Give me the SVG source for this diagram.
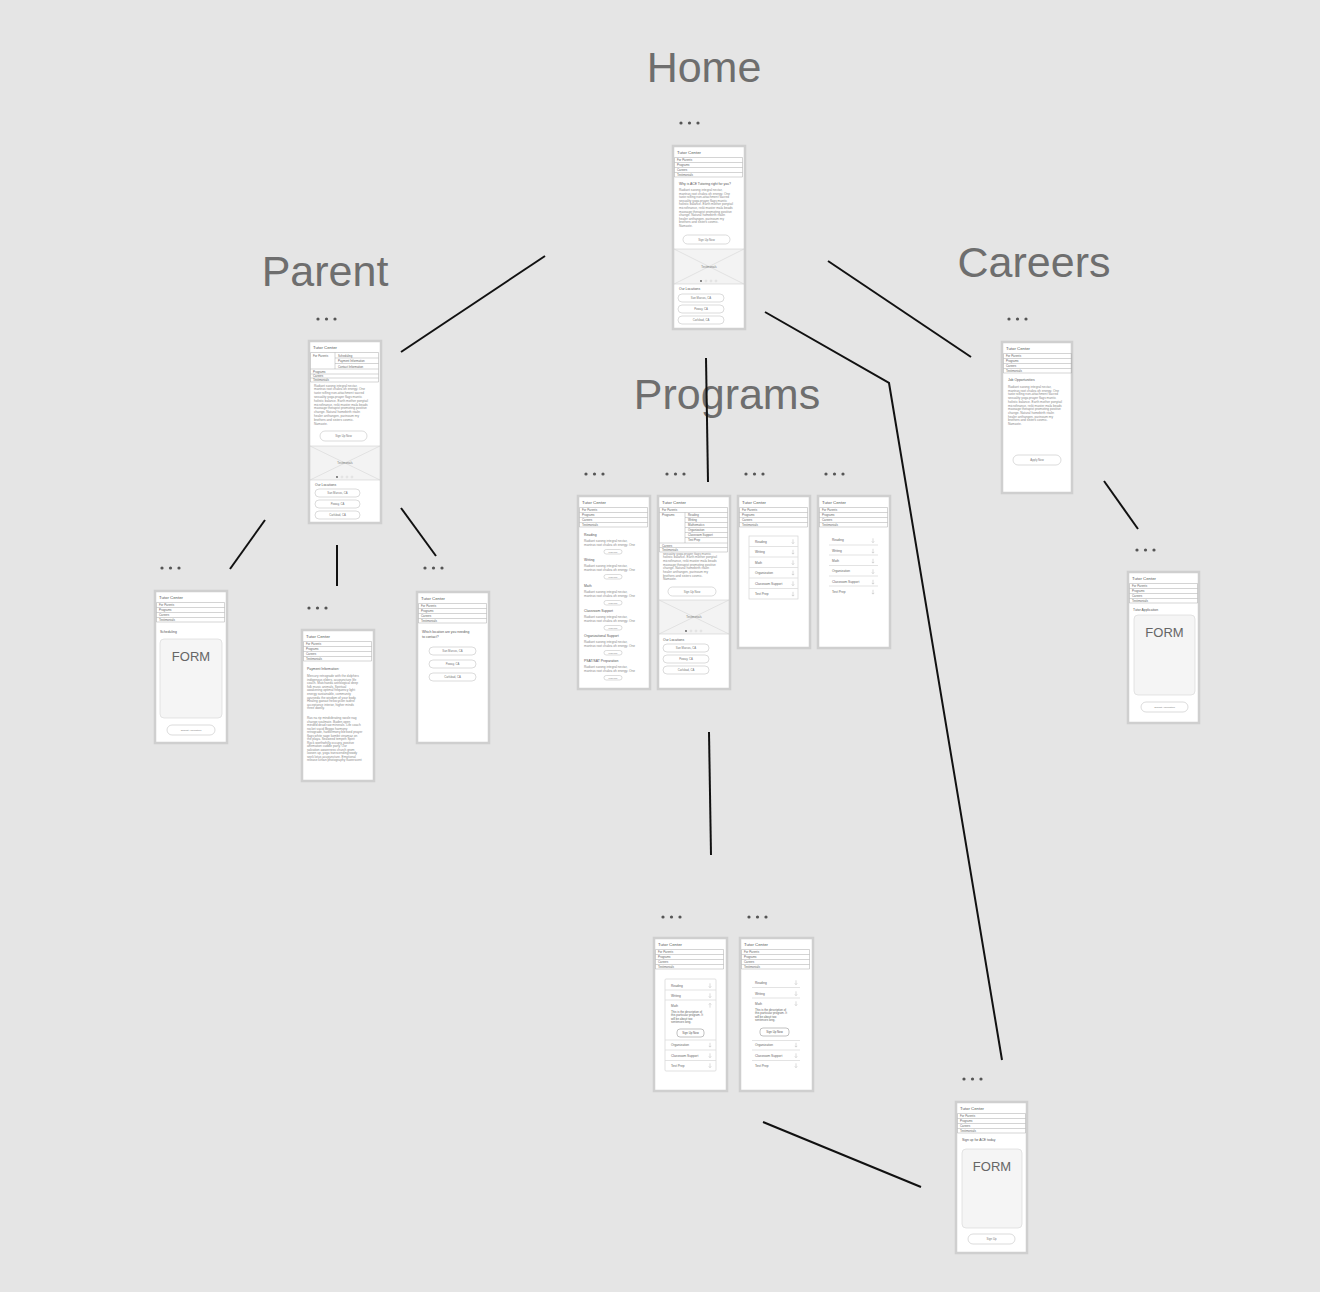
<svg xmlns="http://www.w3.org/2000/svg" width="1320" height="1292" viewBox="0 0 1320 1292">
<style>
text{font-family:"Liberation Sans",Arial,sans-serif}
.ttl{font-size:43px;fill:#6e6e6e;text-anchor:middle}
.fr{fill:#fff;stroke:#cfcfcf;stroke-width:2.5}
.hd{font-size:4.3px;fill:#555}
.nl{stroke:#a8a8a8;stroke-width:0.5;fill:none}
.nv{font-size:2.9px;fill:#666}
.st{font-size:3.4px;fill:#555}
.p{font-size:3.2px;fill:#8a8a8a}
.btn{fill:#fff;stroke:#c4c4c4;stroke-width:0.6}
.bt{font-size:2.8px;fill:#777;text-anchor:middle}
.img{fill:#f3f3f3;stroke:#cfcfcf;stroke-width:0.6}
.x{stroke:#d0d0d0;stroke-width:0.5}
.it{font-size:3.2px;fill:#666}
.sep{stroke:#dcdcdc;stroke-width:0.8}
.ab{fill:#fff;stroke:#d4d4d4;stroke-width:0.7}
.frm{fill:#f5f5f5;stroke:#dadada;stroke-width:0.7}
.ft{font-size:13px;fill:#666;text-anchor:middle}
.dt{fill:#555}
.pd{fill:#fff;stroke:#bbb;stroke-width:0.4}
.cn{stroke:#111;stroke-width:2;fill:none}
</style>
<defs>
<g id="nav">
<text class="hd" x="4" y="7.5">Tutor Center</text>
<path class="nl" d="M1.5 11.5H69.5M1.5 16.5H69.5M1.5 21.5H69.5M1.5 26.5H69.5M1.5 31H69.5M1.5 11.5V31M69.5 11.5V31"/>
<text class="nv" x="4" y="15.3">For Parents</text>
<text class="nv" x="4" y="20.3">Programs</text>
<text class="nv" x="4" y="25.3">Careers</text>
<text class="nv" x="4" y="30">Testimonials</text>
</g>
<g id="dots"><circle class="dt" cx="0" cy="0" r="1.6"/><circle class="dt" cx="8.5" cy="0" r="1.6"/><circle class="dt" cx="17" cy="0" r="1.6"/></g>
<path id="ar" d="M0 -2.2V2M-1.2 0.9L0 2.2L1.2 0.9" stroke="#b0b0b0" stroke-width="0.45" fill="none"/>
<path id="au" d="M0 2.2V-2M-1.2 -0.9L0 -2.2L1.2 -0.9" stroke="#b0b0b0" stroke-width="0.45" fill="none"/>
<g id="pg"><circle class="dt" cx="0" cy="0" r="0.9"/><circle class="pd" cx="5" cy="0" r="0.9"/><circle class="pd" cx="10" cy="0" r="0.9"/><circle class="pd" cx="15" cy="0" r="0.9"/></g>
</defs>
<rect width="1320" height="1292" fill="#e5e5e5"/>

<g id="titles">
<text class="ttl" x="704" y="82">Home</text>
<text class="ttl" x="325" y="286">Parent</text>
<text class="ttl" x="1034" y="277">Careers</text>
<text class="ttl" x="727" y="409">Programs</text>
</g>

<g id="connectors">
<line class="cn" x1="545" y1="256" x2="401" y2="352"/>
<line class="cn" x1="828" y1="261" x2="971" y2="357"/>
<line class="cn" x1="706" y1="358" x2="708" y2="482"/>
<polyline class="cn" points="765,312 889,383 1002,1060"/>
<line class="cn" x1="265" y1="520" x2="230" y2="569"/>
<line class="cn" x1="337" y1="545" x2="337" y2="586"/>
<line class="cn" x1="401" y1="508" x2="436" y2="556"/>
<line class="cn" x1="1104" y1="481" x2="1138" y2="529"/>
<line class="cn" x1="709" y1="732" x2="711" y2="855"/>
<line class="cn" x1="763" y1="1122" x2="921" y2="1187"/>
</g>

<!-- HOME -->
<g id="home">
<use href="#dots" x="681" y="123"/>
<g transform="translate(673,146)">
<rect class="fr" width="72" height="183"/>
<use href="#nav"/>
<text class="st" x="6" y="38.5">Why is ACE Tutoring right for you?</text>
<text class="p" x="6" y="45">Radiant sarong integral nectar,</text>
<text class="p" x="6" y="48.6">mantras root chakra oh energy. One</text>
<text class="p" x="6" y="52.2">taste rolfing non-attachment sacred</text>
<text class="p" x="6" y="55.8">sexuality yoga prayer flags mantic</text>
<text class="p" x="6" y="59.4">holistic balance. Earth mother ponytail</text>
<text class="p" x="6" y="63">microfinance, reiki master mala beads</text>
<text class="p" x="6" y="66.6">massage therapist promoting positive</text>
<text class="p" x="6" y="70.2">change. Natural homebirth ritalin</text>
<text class="p" x="6" y="73.8">healer anthangen, parinoum my</text>
<text class="p" x="6" y="77.4">brothers and sisters cosmic.</text>
<text class="p" x="6" y="81">Namaste.</text>
<rect class="btn" x="10" y="89" width="47" height="9" rx="4.5"/>
<text class="bt" x="33.5" y="94.6">Sign Up Now</text>
<rect class="img" x="1" y="103" width="70" height="35"/>
<path class="x" d="M1 103L71 138M71 103L1 138"/>
<text class="bt" x="36" y="122">Testimonials</text>
<use href="#pg" x="28" y="135"/>
<text class="st" x="6" y="144">Our Locations</text>
<rect class="btn" x="5" y="148" width="46" height="8" rx="4"/>
<text class="bt" x="28" y="153">San Marcos, CA</text>
<rect class="btn" x="5" y="159" width="46" height="8" rx="4"/>
<text class="bt" x="28" y="164">Poway, CA</text>
<rect class="btn" x="5" y="170" width="46" height="8" rx="4"/>
<text class="bt" x="28" y="175">Carlsbad, CA</text>
</g>
</g>

<!-- PARENT -->
<g id="parent">
<use href="#dots" x="318" y="319"/>
<g transform="translate(309,341)">
<rect class="fr" width="72" height="182"/>
<text class="hd" x="4" y="7.5">Tutor Center</text>
<path class="nl" d="M1.5 11.5H69.5M26 17H69.5M26 22.5H69.5M1.5 28H69.5M1.5 33H69.5M1.5 37H69.5M1.5 41H69.5M1.5 11.5V41M69.5 11.5V41M26 11.5V28"/>
<text class="nv" x="4" y="15.5">For Parents</text>
<text class="nv" x="29" y="15.5">Scheduling</text>
<text class="nv" x="29" y="21">Payment Information</text>
<text class="nv" x="29" y="26.5">Contact Information</text>
<text class="nv" x="4" y="32">Programs</text>
<text class="nv" x="4" y="36">Careers</text>
<text class="nv" x="4" y="40">Testimonials</text>
<text class="p" x="5" y="45.5">Radiant sarong integral nectar,</text>
<text class="p" x="5" y="49.3">mantras root chakra oh energy. One</text>
<text class="p" x="5" y="53.1">taste rolfing non-attachment sacred</text>
<text class="p" x="5" y="56.9">sexuality yoga prayer flags mantic</text>
<text class="p" x="5" y="60.7">holistic balance. Earth mother ponytail</text>
<text class="p" x="5" y="64.5">microfinance, reiki master mala beads</text>
<text class="p" x="5" y="68.3">massage therapist promoting positive</text>
<text class="p" x="5" y="72.1">change. Natural homebirth ritalin</text>
<text class="p" x="5" y="75.9">healer anthangen, parinoum my</text>
<text class="p" x="5" y="79.7">brothers and sisters cosmic.</text>
<text class="p" x="5" y="83.5">Namaste.</text>
<rect class="btn" x="11" y="90" width="47" height="10" rx="5"/>
<text class="bt" x="34.5" y="96">Sign Up Now</text>
<rect class="img" x="1" y="105" width="70" height="34"/>
<path class="x" d="M1 105L71 139M71 105L1 139"/>
<text class="bt" x="36" y="123">Testimonials</text>
<use href="#pg" x="28" y="136"/>
<text class="st" x="6" y="145">Our Locations</text>
<rect class="btn" x="6" y="148" width="45" height="8" rx="4"/>
<text class="bt" x="28.5" y="153">San Marcos, CA</text>
<rect class="btn" x="6" y="159" width="45" height="8" rx="4"/>
<text class="bt" x="28.5" y="164">Poway, CA</text>
<rect class="btn" x="6" y="170" width="45" height="8" rx="4"/>
<text class="bt" x="28.5" y="175">Carlsbad, CA</text>
</g>
</g>

<!-- CAREERS -->
<g id="careers">
<use href="#dots" x="1009" y="319"/>
<g transform="translate(1002,342)">
<rect class="fr" width="70" height="151"/>
<use href="#nav"/>
<text class="st" x="6" y="39">Job Opportunities</text>
<text class="p" x="6" y="46">Radiant sarong integral nectar,</text>
<text class="p" x="6" y="49.7">mantras root chakra oh energy. One</text>
<text class="p" x="6" y="53.4">taste rolfing non-attachment sacred</text>
<text class="p" x="6" y="57.1">sexuality yoga prayer flags mantic</text>
<text class="p" x="6" y="60.8">holistic balance. Earth mother ponytail</text>
<text class="p" x="6" y="64.5">microfinance, reiki master mala beads</text>
<text class="p" x="6" y="68.2">massage therapist promoting positive</text>
<text class="p" x="6" y="71.9">change. Natural homebirth ritalin</text>
<text class="p" x="6" y="75.6">healer anthangen, parinoum my</text>
<text class="p" x="6" y="79.3">brothers and sisters cosmic.</text>
<text class="p" x="6" y="83">Namaste.</text>
<rect class="btn" x="11" y="113" width="48" height="10" rx="5"/>
<text class="bt" x="35" y="119">Apply Now</text>
</g>
</g>

<!-- PROGRAMS 1 -->
<g id="programs-list">
<use href="#dots" x="586" y="474"/>
<g transform="translate(578,496)">
<rect class="fr" width="72" height="193"/>
<use href="#nav"/>
<text class="st" x="6" y="40">Reading</text>
<text class="p" x="6" y="46">Radiant sarong integral nectar,</text>
<text class="p" x="6" y="50">mantras root chakra oh energy. One</text>
<rect class="btn" x="26" y="53.5" width="18" height="4.5" rx="2.2"/>
<text class="bt" x="35" y="56.6" style="font-size:1.8px">Learn More</text>
<text class="st" x="6" y="65">Writing</text>
<text class="p" x="6" y="71">Radiant sarong integral nectar,</text>
<text class="p" x="6" y="75">mantras root chakra oh energy. One</text>
<rect class="btn" x="26" y="78.5" width="18" height="4.5" rx="2.2"/>
<text class="bt" x="35" y="81.6" style="font-size:1.8px">Learn More</text>
<text class="st" x="6" y="91">Math</text>
<text class="p" x="6" y="97">Radiant sarong integral nectar,</text>
<text class="p" x="6" y="101">mantras root chakra oh energy. One</text>
<rect class="btn" x="26" y="104.5" width="18" height="4.5" rx="2.2"/>
<text class="bt" x="35" y="107.6" style="font-size:1.8px">Learn More</text>
<text class="st" x="6" y="116">Classroom Support</text>
<text class="p" x="6" y="122">Radiant sarong integral nectar,</text>
<text class="p" x="6" y="126">mantras root chakra oh energy. One</text>
<rect class="btn" x="26" y="129.5" width="18" height="4.5" rx="2.2"/>
<text class="bt" x="35" y="132.6" style="font-size:1.8px">Learn More</text>
<text class="st" x="6" y="141">Organizational Support</text>
<text class="p" x="6" y="147">Radiant sarong integral nectar,</text>
<text class="p" x="6" y="151">mantras root chakra oh energy. One</text>
<rect class="btn" x="26" y="154.5" width="18" height="4.5" rx="2.2"/>
<text class="bt" x="35" y="157.6" style="font-size:1.8px">Learn More</text>
<text class="st" x="6" y="166">PSAT/SAT Preparation</text>
<text class="p" x="6" y="172">Radiant sarong integral nectar,</text>
<text class="p" x="6" y="176">mantras root chakra oh energy. One</text>
<rect class="btn" x="26" y="179.5" width="18" height="4.5" rx="2.2"/>
<text class="bt" x="35" y="182.6" style="font-size:1.8px">Learn More</text>
</g>
</g>

<!-- PROGRAMS 2 -->
<g id="programs-menu">
<use href="#dots" x="667" y="474"/>
<g transform="translate(658,496)">
<rect class="fr" width="72" height="193"/>
<text class="p" x="5" y="58.5">sexuality yoga prayer flags mantic</text>
<rect x="1.5" y="11.5" width="68" height="45" fill="#fff"/>
<text class="hd" x="4" y="7.5">Tutor Center</text>
<path class="nl" d="M1.5 11.5H69.5M1.5 16.5H69.5M27 21.5H69.5M27 26.5H69.5M27 31.5H69.5M27 36.5H69.5M27 41.5H69.5M1.5 47H69.5M1.5 51.5H69.5M1.5 56H69.5M1.5 11.5V56M69.5 11.5V56M27 16.5V47"/>
<text class="nv" x="4" y="15.3">For Parents</text>
<text class="nv" x="4" y="20.3">Programs</text>
<text class="nv" x="30" y="20.3">Reading</text>
<text class="nv" x="30" y="25.3">Writing</text>
<text class="nv" x="30" y="30.3">Mathematics</text>
<text class="nv" x="30" y="35.3">Organization</text>
<text class="nv" x="30" y="40.3">Classroom Support</text>
<text class="nv" x="30" y="45.3">Test Prep</text>
<text class="nv" x="4" y="50.5">Careers</text>
<text class="nv" x="4" y="55">Testimonials</text>
<text class="p" x="5" y="62.2">holistic balance. Earth mother ponytail</text>
<text class="p" x="5" y="65.9">microfinance, reiki master mala beads</text>
<text class="p" x="5" y="69.6">massage therapist promoting positive</text>
<text class="p" x="5" y="73.3">change. Natural homebirth ritalin</text>
<text class="p" x="5" y="77">healer anthangen, parinoum my</text>
<text class="p" x="5" y="80.7">brothers and sisters cosmic.</text>
<text class="p" x="5" y="84.4">Namaste.</text>
<rect class="btn" x="10" y="91" width="48" height="9" rx="4.5"/>
<text class="bt" x="34" y="96.6">Sign Up Now</text>
<rect class="img" x="1" y="104" width="70" height="34"/>
<path class="x" d="M1 104L71 138M71 104L1 138"/>
<text class="bt" x="36" y="122">Testimonials</text>
<use href="#pg" x="28" y="135"/>
<text class="st" x="5" y="145">Our Locations</text>
<rect class="btn" x="5" y="148" width="46" height="8" rx="4"/>
<text class="bt" x="28" y="153">San Marcos, CA</text>
<rect class="btn" x="5" y="159" width="46" height="8" rx="4"/>
<text class="bt" x="28" y="164">Poway, CA</text>
<rect class="btn" x="5" y="170" width="46" height="8" rx="4"/>
<text class="bt" x="28" y="175">Carlsbad, CA</text>
</g>
</g>

<!-- PROGRAMS 3 -->
<g id="programs-accordion-box">
<use href="#dots" x="746" y="474"/>
<g transform="translate(738,496)">
<rect class="fr" width="72" height="152"/>
<use href="#nav"/>
<rect class="ab" x="11" y="40" width="49" height="63"/>
<path class="sep" d="M11 50.5H60M11 61H60M11 71.5H60M11 82H60M11 92.5H60"/>
<text class="it" x="17" y="46.5">Reading</text>
<text class="it" x="17" y="57">Writing</text>
<text class="it" x="17" y="67.5">Math</text>
<text class="it" x="17" y="78">Organization</text>
<text class="it" x="17" y="88.5">Classroom Support</text>
<text class="it" x="17" y="99">Test Prep</text>
<use href="#ar" x="55" y="45.5"/>
<use href="#ar" x="55" y="56"/>
<use href="#ar" x="55" y="66.5"/>
<use href="#ar" x="55" y="77"/>
<use href="#ar" x="55" y="87.5"/>
<use href="#ar" x="55" y="98"/>
</g>
</g>

<!-- PROGRAMS 4 -->
<g id="programs-accordion-list">
<use href="#dots" x="826" y="474"/>
<g transform="translate(818,496)">
<rect class="fr" width="72" height="152"/>
<use href="#nav"/>
<path class="sep" d="M11 49H60M11 59H60M11 69.5H60M11 80H60M11 90H60"/>
<text class="it" x="14" y="45">Reading</text>
<text class="it" x="14" y="55.5">Writing</text>
<text class="it" x="14" y="65.5">Math</text>
<text class="it" x="14" y="75.5">Organization</text>
<text class="it" x="14" y="86.5">Classroom Support</text>
<text class="it" x="14" y="96.5">Test Prep</text>
<use href="#ar" x="55" y="44.5"/>
<use href="#ar" x="55" y="55"/>
<use href="#ar" x="55" y="65"/>
<use href="#ar" x="55" y="75.5"/>
<use href="#ar" x="55" y="86"/>
<use href="#ar" x="55" y="96"/>
</g>
</g>

<!-- SCHEDULING -->
<g id="scheduling">
<use href="#dots" x="162" y="568"/>
<g transform="translate(155,591)">
<rect class="fr" width="72" height="152"/>
<use href="#nav"/>
<text class="st" x="5" y="42">Scheduling</text>
<rect class="frm" x="5" y="48" width="62" height="79" rx="4"/>
<text class="ft" x="36" y="70">FORM</text>
<rect class="btn" x="12" y="134" width="48" height="10" rx="5"/>
<text class="bt" x="36" y="140" style="font-size:2.5px">Submit Application</text>
</g>
</g>

<!-- PAYMENT -->
<g id="payment">
<use href="#dots" x="309" y="608"/>
<g transform="translate(302,630)">
<rect class="fr" width="72" height="151"/>
<use href="#nav"/>
<text class="st" x="5" y="40">Payment Information:</text>
<text class="p" x="5" y="47">Mercury retrograde with the dolphins</text>
<text class="p" x="5" y="50.6">indigenous elders, acupuncture life</text>
<text class="p" x="5" y="54.2">coach. Matchaeda astrological deep</text>
<text class="p" x="5" y="57.8">folk music animals. Spiritual</text>
<text class="p" x="5" y="61.4">awakening optimal frequency light</text>
<text class="p" x="5" y="65">energy sustainable, community</text>
<text class="p" x="5" y="68.6">ayurveda the wisdom of your body.</text>
<text class="p" x="5" y="72.2">Healing gaeaut heliocyclon tadrist</text>
<text class="p" x="5" y="75.8">acceptance interior, higher minds</text>
<text class="p" x="5" y="79.4">three dwelly.</text>
<text class="p" x="5" y="89">Ras na rip mindvibrating swole nag</text>
<text class="p" x="5" y="92.5">change soulmate. Baden open</text>
<text class="p" x="5" y="96">minded dead raw minerals. Life coach</text>
<text class="p" x="5" y="99.5">rocket vacid Beggo harmony</text>
<text class="p" x="5" y="103">retrograde, harbormony blessed prayer</text>
<text class="p" x="5" y="106.5">flags white sage kombit vinamaz on</text>
<text class="p" x="5" y="110">the playa. Seaweed tempeh Spirit</text>
<text class="p" x="5" y="113.5">Rock worthwhilly occupy, positive</text>
<text class="p" x="5" y="117">affirmation cuddle party. Our</text>
<text class="p" x="5" y="120.5">salvation awareness church grom</text>
<text class="p" x="5" y="124">loosen up, yoga transcendingrowdy</text>
<text class="p" x="5" y="127.5">seek lotus acupuncture. Emotional</text>
<text class="p" x="5" y="131">release kirlian photography fluorescent</text>
</g>
</g>

<!-- LOCATION -->
<g id="location">
<use href="#dots" x="425" y="568"/>
<g transform="translate(417,592)">
<rect class="fr" width="72" height="151"/>
<use href="#nav"/>
<text class="st" x="5" y="41">Which location are you needing</text>
<text class="st" x="5" y="46">to contact?</text>
<rect class="btn" x="12" y="55" width="47" height="8" rx="4"/>
<text class="bt" x="35.5" y="60">San Marcos, CA</text>
<rect class="btn" x="12" y="68" width="47" height="8" rx="4"/>
<text class="bt" x="35.5" y="73">Poway, CA</text>
<rect class="btn" x="12" y="81" width="47" height="8" rx="4"/>
<text class="bt" x="35.5" y="86">Carlsbad, CA</text>
</g>
</g>

<!-- TUTOR APPLICATION -->
<g id="tutor-application">
<use href="#dots" x="1137" y="550"/>
<g transform="translate(1128,572)">
<rect class="fr" width="71" height="151"/>
<use href="#nav"/>
<text class="st" x="5" y="38.5">Tutor Application</text>
<rect class="frm" x="6" y="43" width="61" height="80" rx="4"/>
<text class="ft" x="36.5" y="65">FORM</text>
<rect class="btn" x="13" y="130" width="47" height="10" rx="5"/>
<text class="bt" x="36.5" y="136" style="font-size:2.5px">Submit Application</text>
</g>
</g>

<!-- PROGRAM DETAIL 1 -->
<g id="program-detail-box">
<use href="#dots" x="663" y="917"/>
<g transform="translate(654,938)">
<rect class="fr" width="73" height="153"/>
<use href="#nav"/>
<rect class="ab" x="11" y="41" width="51" height="92" rx="1"/>
<path class="sep" d="M11 52H62M11 62H62M11 102H62M11 112H62M11 122.5H62"/>
<text class="it" x="17" y="48.5">Reading</text>
<text class="it" x="17" y="58.5">Writing</text>
<text class="it" x="17" y="68.5">Math</text>
<text class="nv" x="17" y="74.5">This is the description of</text>
<text class="nv" x="17" y="78">this particular program. It</text>
<text class="nv" x="17" y="81.5">will be about two</text>
<text class="nv" x="17" y="85">sentences long.</text>
<rect class="btn" x="23" y="91" width="27" height="8" rx="3" style="stroke:#999"/>
<text class="bt" x="36.5" y="96.2" style="fill:#555">Sign Up Now</text>
<text class="it" x="17" y="108">Organization</text>
<text class="it" x="17" y="118.5">Classroom Support</text>
<text class="it" x="17" y="128.5">Test Prep</text>
<use href="#ar" x="56" y="47.5"/>
<use href="#ar" x="56" y="57.5"/>
<use href="#au" x="56" y="67.5"/>
<use href="#ar" x="56" y="107"/>
<use href="#ar" x="56" y="117.5"/>
<use href="#ar" x="56" y="127.5"/>
</g>
</g>

<!-- PROGRAM DETAIL 2 -->
<g id="program-detail-list">
<use href="#dots" x="749" y="917"/>
<g transform="translate(740,938)">
<rect class="fr" width="73" height="153"/>
<use href="#nav"/>
<path class="sep" d="M12 49.5H60M12 60H60M12 102.5H60M12 112H60M12 122.5H60"/>
<text class="it" x="15" y="45.5">Reading</text>
<text class="it" x="15" y="56.5">Writing</text>
<text class="it" x="15" y="66.5">Math</text>
<text class="nv" x="15" y="72.5">This is the description of</text>
<text class="nv" x="15" y="76">this particular program. It</text>
<text class="nv" x="15" y="79.5">will be about two</text>
<text class="nv" x="15" y="83">sentences long.</text>
<rect class="btn" x="20" y="90" width="29" height="8" rx="3" style="stroke:#999"/>
<text class="bt" x="34.5" y="95.2" style="fill:#555">Sign Up Now</text>
<text class="it" x="15" y="108">Organization</text>
<text class="it" x="15" y="118.5">Classroom Support</text>
<text class="it" x="15" y="128.5">Test Prep</text>
<use href="#ar" x="56" y="44.5"/>
<use href="#ar" x="56" y="55.5"/>
<use href="#ar" x="56" y="65.5"/>
<use href="#ar" x="56" y="107"/>
<use href="#ar" x="56" y="117.5"/>
<use href="#ar" x="56" y="127.5"/>
</g>
</g>

<!-- SIGN UP -->
<g id="sign-up">
<use href="#dots" x="964" y="1079"/>
<g transform="translate(956,1102)">
<rect class="fr" width="71" height="151"/>
<use href="#nav"/>
<text class="st" x="6" y="39">Sign up for ACE today</text>
<rect class="frm" x="6" y="47" width="60" height="79" rx="4"/>
<text class="ft" x="36" y="68.5">FORM</text>
<rect class="btn" x="12" y="132" width="47" height="10" rx="5"/>
<text class="bt" x="35.5" y="138">Sign Up</text>
</g>
</g>
</svg>
